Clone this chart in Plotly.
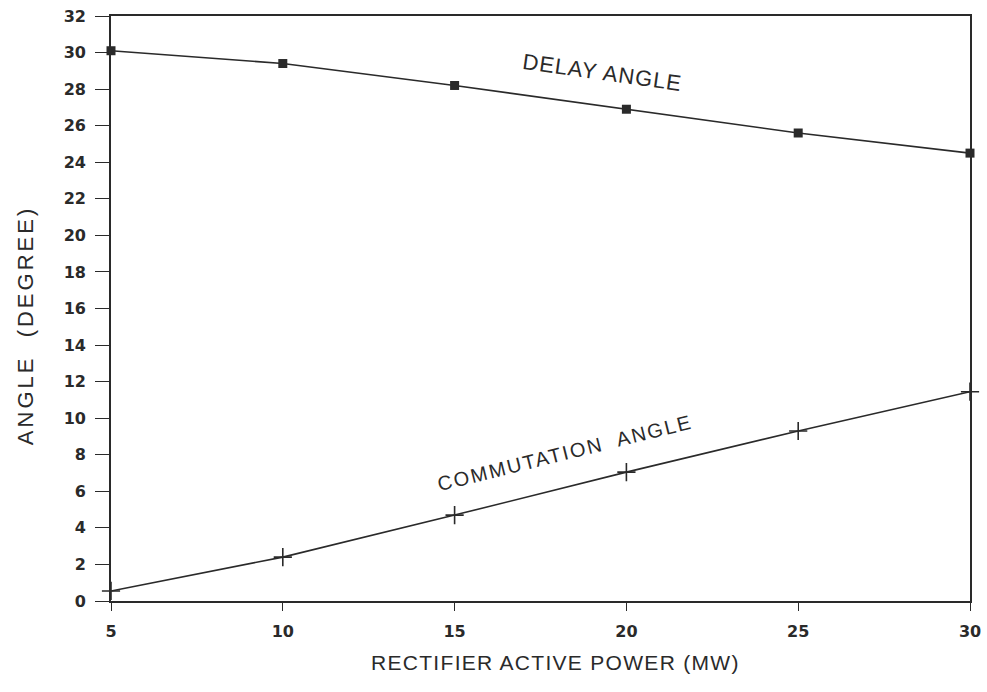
import plotly.graph_objects as go

power_mw = [5, 10, 15, 20, 25, 30]
delay_angle = [30.1, 29.4, 28.2, 26.9, 25.6, 24.5]
commutation_angle = [0.55, 2.4, 4.7, 7.05, 9.3, 11.45]
y_ticks = list(range(0, 33, 2))
x_ticks = [5, 10, 15, 20, 25, 30]

ink = "#2a2a2a"
fig = go.Figure()
fig.add_trace(go.Scatter(
    x=power_mw, y=delay_angle, mode="lines+markers",
    line=dict(color=ink, width=1.6),
    marker=dict(symbol="square", size=9, color=ink),
    cliponaxis=False, showlegend=False))
fig.add_trace(go.Scatter(
    x=power_mw, y=commutation_angle, mode="lines+markers",
    line=dict(color=ink, width=1.6),
    marker=dict(symbol="cross-thin", size=13, line=dict(color=ink, width=1.6)),
    cliponaxis=False, showlegend=False))

fig.add_annotation(x=19.3, y=28.9, text='<span style="letter-spacing:1px">DELAY ANGLE</span>',
                   showarrow=False, textangle=8,
                   font=dict(family="Liberation Sans", size=22, color=ink))
fig.add_annotation(x=18.2, y=8.1,
                   text='<span style="letter-spacing:2px">COMMUTATION  ANGLE</span>',
                   showarrow=False, textangle=-14,
                   font=dict(family="Liberation Sans", size=20, color=ink))

# axis titles
fig.add_annotation(xref="paper", yref="paper", x=0.517, y=-0.105, yanchor="middle",
                   text='<span style="letter-spacing:1.3px">RECTIFIER ACTIVE POWER (MW)</span>',
                   showarrow=False, font=dict(family="Liberation Sans", size=21, color=ink))
fig.add_annotation(xref="paper", yref="paper", x=-0.1, y=0.47, xanchor="center", yanchor="middle",
                   text='<span style="letter-spacing:3px">ANGLE  (DEGREE)</span>',
                   showarrow=False, textangle=-90,
                   font=dict(family="Liberation Sans", size=22, color=ink))

fig.update_layout(
    width=987, height=692,
    margin=dict(l=111, r=17, t=16, b=91),
    paper_bgcolor="white", plot_bgcolor="white",
    font=dict(family="DejaVu Sans", color=ink),
)
fig.update_xaxes(
    range=[5, 30], tickvals=x_ticks, ticktext=[str(v) for v in x_ticks],
    showgrid=False, zeroline=False, showline=True, mirror=True, automargin=False,
    linecolor=ink, linewidth=1.8, ticks="outside", ticklen=8, tickcolor=ink, tickwidth=1.4,
    ticklabelstandoff=7,
    tickfont=dict(family="DejaVu Sans", size=16, color=ink, weight="bold"),
)
fig.update_yaxes(
    range=[0, 32], tickvals=y_ticks, ticktext=[str(v) for v in y_ticks],
    showgrid=False, zeroline=False, showline=True, mirror=True, automargin=False,
    linecolor=ink, linewidth=1.8, ticks="outside", ticklen=14, tickcolor=ink, tickwidth=1.4,
    ticklabelstandoff=6,
    tickfont=dict(family="DejaVu Sans", size=16, color=ink, weight="bold"),
)
fig.write_html("out.html")
